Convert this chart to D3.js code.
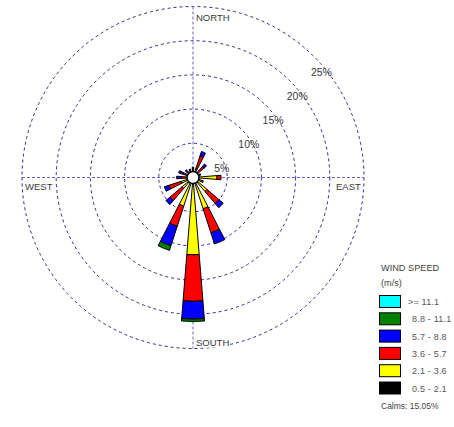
<!DOCTYPE html>
<html>
<head>
<meta charset="utf-8">
<script src="https://cdn.jsdelivr.net/npm/d3@7"></script>
<style>
  html, body { margin: 0; padding: 0; background: #fff; }
  svg { display: block; }
  text { font-family: Arial, "Liberation Sans", sans-serif; }
</style>
</head>
<body>
<svg id="rose" width="454" height="427"></svg>
<script>
// Wind directions (16 sectors, clockwise from north)
const directions = ["N","NNE","NE","ENE","E","ESE","SE","SSE","S","SSW","SW","WSW","W","WNW","NW","NNW"];

// Frequency (%) of each wind speed class per direction
const speed05to21  = [0.3, 0.3, 0.3, 0.2, 0.4, 0.3, 0.3, 0.4, 0.5, 0.4, 0.3, 0.3, 0.2, 0.2, 0.2, 0.2];
const speed21to36  = [0.6, 1.0, 0.7, 0.5, 3.1, 1.0, 2.4, 4.4, 10.8, 4.0, 1.8, 1.5, 0.7, 0.6, 0.4, 0.5];
const speed36to57  = [0.4, 2.0, 1.1, 0.4, 0.6, 0.3, 2.3, 3.7, 6.8, 3.1, 2.3, 1.9, 0.9, 0.8, 0.5, 0.4];
const speed57to88  = [0.2, 0.7, 0.5, 0.1, 0.0, 0.0, 0.8, 1.7, 2.6, 3.0, 0.8, 0.7, 0.6, 0.6, 0.4, 0.2];
const speed88to111 = [0.0, 0.0, 0.0, 0.0, 0.0, 0.0, 0.0, 0.0, 0.35, 0.7, 0.0, 0.0, 0.0, 0.0, 0.0, 0.0];
const speed111up   = [0, 0, 0, 0, 0, 0, 0, 0, 0, 0, 0, 0, 0, 0, 0, 0];

// Legend labels, inner (slowest) class first
const classLabels = ["0.5 - 2.1", "2.1 - 3.6", "3.6 - 5.7", "5.7 - 8.8", "8.8 - 11.1", ">= 11.1"];
const classColors = ["#000000", "#ffff00", "#ff0000", "#0000ff", "#008000", "#00ffff"];
const classSeries = [speed05to21, speed21to36, speed36to57, speed57to88, speed88to111, speed111up];

const ringTicks = [5, 10, 15, 20, 25];
const ringLabels = ["5%", "10%", "15%", "20%", "25%"];
const calmsPct = "15.05%";

const svg = d3.select("#rose");
const cx = 193, cy = 177.5, R = 171;
const g = svg.append("g").attr("transform", `translate(${cx},${cy})`);

const r = d3.scaleLinear().domain([0, 25]).range([0, R]);
const angle = d3.scaleBand().domain(directions).range([0, 2 * Math.PI]);
const halfWidth = 4.6 * Math.PI / 180;

// Concentric frequency rings
g.selectAll("circle.ring").data(ringTicks).join("circle")
  .attr("class", "ring")
  .attr("r", d => r(d))
  .attr("fill", "none")
  .attr("stroke", "#2c2c96")
  .attr("stroke-width", 1)
  .attr("stroke-dasharray", "3,3");

// Cross-hair axes
g.append("line").attr("x1", -R).attr("x2", R).attr("y1", 0).attr("y2", 0)
  .attr("stroke", "#6464c8").attr("stroke-dasharray", "3,2");
g.append("line").attr("x1", 0).attr("x2", 0).attr("y1", -R).attr("y2", R)
  .attr("stroke", "#6464c8").attr("stroke-dasharray", "3,2");

// Ring percentage labels along the north-east diagonal
g.selectAll("text.ringlab").data(ringTicks).join("text")
  .attr("class", "ringlab")
  .attr("x", d => r(d) * Math.SQRT1_2 - 3)
  .attr("y", d => -r(d) * Math.SQRT1_2 + 19)
  .attr("font-size", "10.5px")
  .attr("fill", "#3a3a3a")
  .text((d, i) => ringLabels[i]);

// Compass labels on small white plates
const compass = [
  { t: "NORTH", x: 3, y: -R + 14 },
  { t: "SOUTH", x: 3, y: R - 3 },
  { t: "WEST", x: -R + 3, y: 12.5 },
  { t: "EAST", x: R - 28, y: 12.5 }
];
const cg = g.selectAll("g.compass").data(compass).join("g").attr("class", "compass");
cg.append("rect")
  .attr("x", d => d.x - 1).attr("y", d => d.y - 8)
  .attr("width", d => d.t.length * 6.6).attr("height", 10)
  .attr("fill", "#fff");
cg.append("text")
  .attr("x", d => d.x).attr("y", d => d.y)
  .attr("font-size", "9.5px")
  .attr("fill", "#3a3a3a")
  .text(d => d.t);

// Stacked petals
const segments = [];
directions.forEach((dir, i) => {
  let acc = 0;
  classSeries.forEach((series, k) => {
    const v = series[i];
    if (v > 0) {
      segments.push({ dir, k, inner: acc, outer: acc + v });
      acc += v;
    }
  });
});
const arc = d3.arc()
  .innerRadius(d => r(d.inner))
  .outerRadius(d => r(d.outer))
  .startAngle(d => angle(d.dir) - halfWidth)
  .endAngle(d => angle(d.dir) + halfWidth);

g.selectAll("path.petal").data(segments).join("path")
  .attr("class", "petal")
  .attr("d", arc)
  .attr("fill", d => classColors[d.k])
  .attr("stroke", "#000")
  .attr("stroke-width", 1)
  .attr("stroke-linejoin", "miter");

// Calms circle
g.append("circle").attr("r", 6).attr("fill", "#fff").attr("stroke", "#000").attr("stroke-width", 1.5);

// Legend
const lg = svg.append("g").attr("transform", "translate(379,0)");
lg.append("text").attr("x", 2).attr("y", 271).attr("font-size", "9.2px").attr("fill", "#444").text("WIND SPEED");
lg.append("text").attr("x", 2).attr("y", 285.5).attr("font-size", "9.2px").attr("fill", "#444").text("(m/s)");
const order = d3.range(classLabels.length).reverse();
const rowY = d3.scaleLinear().domain([0, 1]).range([295, 312.3]);
const rows = lg.selectAll("g.row").data(order).join("g")
  .attr("class", "row")
  .attr("transform", (d, i) => `translate(0,${rowY(i)})`);
rows.append("rect").attr("x", 0.5).attr("y", 0.5).attr("width", 21).attr("height", 12)
  .attr("fill", d => classColors[d]).attr("stroke", "#000").attr("stroke-width", 1);
rows.append("text")
  .attr("x", d => d === 5 ? 29 : 33)
  .attr("y", 10)
  .attr("font-size", "9px")
  .attr("letter-spacing", "0.2px")
  .attr("fill", "#555")
  .text(d => classLabels[d]);
lg.append("text").attr("x", 2).attr("y", 409).attr("font-size", "8.5px").attr("fill", "#444")
  .text("Calms: " + calmsPct);
</script>
</body>
</html>
